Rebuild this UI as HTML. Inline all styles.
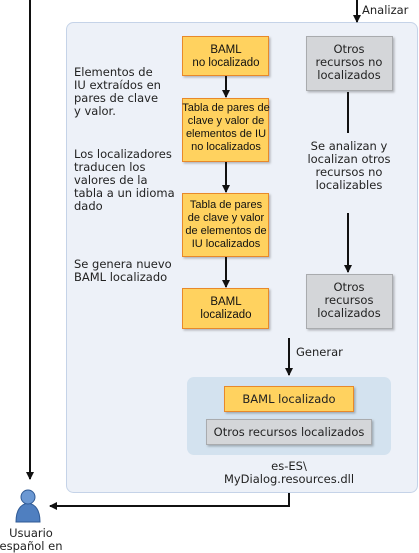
<!DOCTYPE html>
<html><head><meta charset="utf-8"><style>
html,body{margin:0;padding:0;background:#fff;width:419px;height:553px;overflow:hidden}
svg{display:block}
.t{font-family:"DejaVu Sans","Liberation Sans",sans-serif;font-size:11.5px;fill:#222}
.b{font-family:"Liberation Sans",sans-serif;font-size:11px;fill:#111}
</style></head><body>
<svg width="419" height="553" viewBox="0 0 419 553" xmlns="http://www.w3.org/2000/svg">
<defs>
<marker id="a" markerWidth="8" markerHeight="8" refX="7" refY="4" orient="auto" markerUnits="userSpaceOnUse"><path d="M0,0 L8,4 L0,8 z" fill="#111"/></marker>
<filter id="s" x="-10%" y="-10%" width="130%" height="130%"><feDropShadow dx="1.5" dy="1.5" stdDeviation="1" flood-color="#000" flood-opacity="0.25"/></filter>
</defs>
<rect x="66.5" y="22.5" width="351" height="470" rx="7" fill="#edf1f8" stroke="#c5d3e8"/>
<line x1="30" y1="0" x2="30" y2="479" stroke="#111" stroke-width="2" marker-end="url(#a)"/>
<line x1="357" y1="0" x2="357" y2="22" stroke="#111" stroke-width="2" marker-end="url(#a)"/>
<text class="t" x="362" y="14">Analizar</text>
<g filter="url(#s)">
<rect x="182.5" y="36.5" width="86" height="39" fill="#ffd25e" stroke="#e8892b"/>
<rect x="182.5" y="98.5" width="86" height="63" fill="#ffd25e" stroke="#e8892b"/>
<rect x="182.5" y="193.5" width="86" height="63" fill="#ffd25e" stroke="#e8892b"/>
<rect x="182.5" y="288.5" width="86" height="40" fill="#ffd25e" stroke="#e8892b"/>
<rect x="306.5" y="36.5" width="86" height="54" fill="#d4d6d9" stroke="#a9abae"/>
<rect x="306.5" y="274.5" width="86" height="54" fill="#d4d6d9" stroke="#a9abae"/>
</g>
<g class="b" text-anchor="middle">
<text x="226" y="53" font-size="11.5">BAML</text><text x="226" y="66" font-size="11.5">no localizado</text>
<text x="226" y="111">Tabla de pares de</text><text x="226" y="124">clave y valor de</text><text x="226" y="137">elementos de IU</text><text x="226" y="150">no localizados</text>
<text x="226" y="208">Tabla de pares</text><text x="226" y="221">de clave y valor</text><text x="226" y="234">de elementos de</text><text x="226" y="247">IU localizados</text>
<text x="226" y="305" font-size="11.5">BAML</text><text x="226" y="318" font-size="11.5">localizado</text>
</g>
<g class="t" text-anchor="middle">
<text x="349" y="53">Otros</text><text x="349" y="66">recursos no</text><text x="349" y="79">localizados</text>
<text x="349" y="291">Otros</text><text x="349" y="304">recursos</text><text x="349" y="317">localizados</text>
<text x="349" y="150">Se analizan y</text><text x="349" y="163">localizan otros</text><text x="349" y="176">recursos no</text><text x="349" y="189">localizables</text>
<text x="289" y="470">es-ES\</text><text x="289" y="483">MyDialog.resources.dll</text>
<text x="31" y="537">Usuario</text><text x="31" y="550">español en</text>
</g>
<g class="t">
<text x="74" y="76">Elementos de</text><text x="74" y="89">IU extraídos en</text><text x="74" y="102">pares de clave</text><text x="74" y="115">y valor.</text>
<text x="74" y="158">Los localizadores</text><text x="74" y="171">traducen los</text><text x="74" y="184">valores de la</text><text x="74" y="197">tabla a un idioma</text><text x="74" y="210">dado</text>
<text x="74" y="268">Se genera nuevo</text><text x="74" y="281">BAML localizado</text>
<text x="296" y="356">Generar</text>
</g>
<g stroke="#111" stroke-width="2" fill="none">
<line x1="226" y1="76" x2="226" y2="97" marker-end="url(#a)"/>
<line x1="226" y1="162" x2="226" y2="192" marker-end="url(#a)"/>
<line x1="226" y1="257" x2="226" y2="287" marker-end="url(#a)"/>
<line x1="348" y1="92" x2="348" y2="133"/>
<line x1="348" y1="213" x2="348" y2="272" marker-end="url(#a)"/>
<line x1="289" y1="338" x2="289" y2="375" marker-end="url(#a)"/>
<polyline points="289,493 289,506 50,506" marker-end="url(#a)"/>
</g>
<rect x="187" y="377" width="204" height="78" rx="7" fill="#d3e2ef"/>
<g filter="url(#s)">
<rect x="224.5" y="386.5" width="129" height="25" fill="#ffd25e" stroke="#e8892b"/>
<rect x="206.5" y="419.5" width="165" height="25" fill="#d4d6d9" stroke="#a9abae"/>
</g>
<text class="t" x="289" y="403" text-anchor="middle">BAML localizado</text>
<text class="t" x="289" y="436" text-anchor="middle">Otros recursos localizados</text>
<g>
<path d="M16,522 Q16,505 28,503 Q40,505 40,522 Z" fill="#4f7fc0" stroke="#2f5a95"/>
<circle cx="28" cy="497" r="7" fill="#6b98d3" stroke="#2f5a95"/>
</g>
</svg>
</body></html>
